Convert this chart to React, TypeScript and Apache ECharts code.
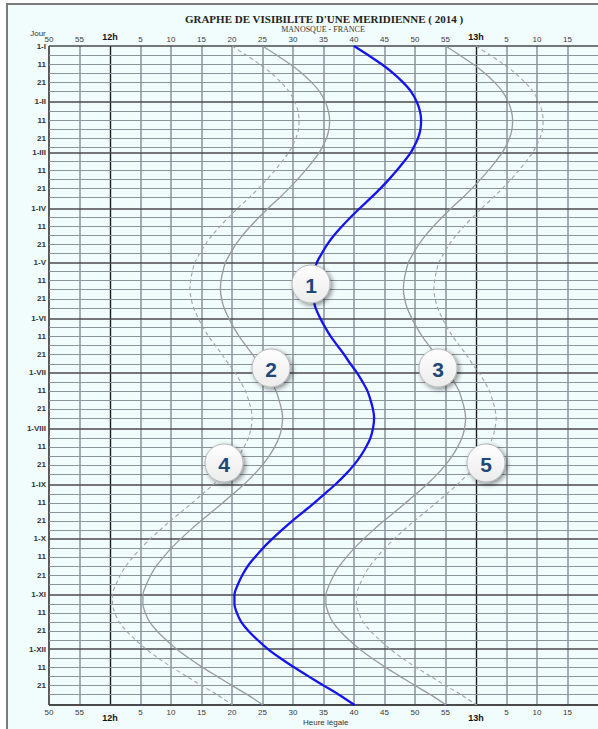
import React, { useEffect, useRef } from 'react';
import * as echarts from 'echarts';

// Day of year (0 = 1 January) for the points read on each curve (1, 6, 11, 16, 21, 26 of each month)
const days = [
  0, 5, 10, 15, 20, 25,
  31, 36, 41, 46, 51, 56,
  59, 64, 69, 74, 79, 84,
  90, 95, 100, 105, 110, 115,
  120, 125, 130, 135, 140, 145,
  151, 156, 161, 166, 171, 176,
  181, 186, 191, 196, 201, 206,
  212, 217, 222, 227, 232, 237,
  243, 248, 253, 258, 263, 268,
  273, 278, 283, 288, 293, 298,
  304, 309, 314, 319, 324, 329,
  334, 339, 344, 349, 354, 359,
  365,
];

// Minutes after 12h (legal time)
const curve1 = [
  40.0, 42.3, 44.5, 46.4, 48.0, 49.3,
  50.3, 50.8, 51.0, 50.9, 50.5, 49.8,
  49.3, 48.2, 47.0, 45.7, 44.3, 42.8,
  40.9, 39.4, 38.0, 36.7, 35.6, 34.7,
  33.9, 33.5, 33.2, 33.1, 33.3, 33.7,
  34.5, 35.3, 36.2, 37.3, 38.4, 39.4,
  40.5, 41.4, 42.2, 42.7, 43.1, 43.3,
  43.1, 42.7, 42.0, 41.1, 40.0, 38.7,
  36.9, 35.2, 33.5, 31.7, 29.9, 28.2,
  26.6, 25.1, 23.8, 22.6, 21.7, 21.0,
  20.4, 20.4, 20.8, 21.5, 22.7, 24.2,
  25.9, 27.9, 30.1, 32.5, 34.9, 37.4,
  40.1,
];
const curve2 = [
  25.0, 27.3, 29.5, 31.4, 33.0, 34.3,
  35.3, 35.8, 36.0, 35.9, 35.5, 34.8,
  34.3, 33.2, 32.0, 30.7, 29.3, 27.8,
  25.9, 24.4, 23.0, 21.7, 20.6, 19.7,
  18.9, 18.5, 18.2, 18.1, 18.3, 18.7,
  19.5, 20.3, 21.2, 22.3, 23.4, 24.4,
  25.5, 26.4, 27.2, 27.7, 28.1, 28.3,
  28.1, 27.7, 27.0, 26.1, 25.0, 23.7,
  21.9, 20.2, 18.5, 16.7, 14.9, 13.2,
  11.6, 10.1, 8.8, 7.6, 6.7, 6.0,
  5.4, 5.4, 5.8, 6.5, 7.7, 9.2,
  10.9, 12.9, 15.1, 17.5, 19.9, 22.4,
  25.1,
];
const curve3 = [
  55.0, 57.3, 59.5, 61.4, 63.0, 64.3,
  65.3, 65.8, 66.0, 65.9, 65.5, 64.8,
  64.3, 63.2, 62.0, 60.7, 59.3, 57.8,
  55.9, 54.4, 53.0, 51.7, 50.6, 49.7,
  48.9, 48.5, 48.2, 48.1, 48.3, 48.7,
  49.5, 50.3, 51.2, 52.3, 53.4, 54.4,
  55.5, 56.4, 57.2, 57.7, 58.1, 58.3,
  58.1, 57.7, 57.0, 56.1, 55.0, 53.7,
  51.9, 50.2, 48.5, 46.7, 44.9, 43.2,
  41.6, 40.1, 38.8, 37.6, 36.7, 36.0,
  35.4, 35.4, 35.8, 36.5, 37.7, 39.2,
  40.9, 42.9, 45.1, 47.5, 49.9, 52.4,
  55.1,
];
const curve4 = [
  20.0, 22.3, 24.5, 26.4, 28.0, 29.3,
  30.3, 30.8, 31.0, 30.9, 30.5, 29.8,
  29.3, 28.2, 27.0, 25.7, 24.3, 22.8,
  20.9, 19.4, 18.0, 16.7, 15.6, 14.7,
  13.9, 13.5, 13.2, 13.1, 13.3, 13.7,
  14.5, 15.3, 16.2, 17.3, 18.4, 19.4,
  20.5, 21.4, 22.2, 22.7, 23.1, 23.3,
  23.1, 22.7, 22.0, 21.1, 20.0, 18.7,
  16.9, 15.2, 13.5, 11.7, 9.9, 8.2,
  6.6, 5.1, 3.8, 2.6, 1.7, 1.0,
  0.4, 0.4, 0.8, 1.5, 2.7, 4.2,
  5.9, 7.9, 10.1, 12.5, 14.9, 17.4,
  20.1,
];
const curve5 = [
  60.0, 62.3, 64.5, 66.4, 68.0, 69.3,
  70.3, 70.8, 71.0, 70.9, 70.5, 69.8,
  69.3, 68.2, 67.0, 65.7, 64.3, 62.8,
  60.9, 59.4, 58.0, 56.7, 55.6, 54.7,
  53.9, 53.5, 53.2, 53.1, 53.3, 53.7,
  54.5, 55.3, 56.2, 57.3, 58.4, 59.4,
  60.5, 61.4, 62.2, 62.7, 63.1, 63.3,
  63.1, 62.7, 62.0, 61.1, 60.0, 58.7,
  56.9, 55.2, 53.5, 51.7, 49.9, 48.2,
  46.6, 45.1, 43.8, 42.6, 41.7, 41.0,
  40.4, 40.4, 40.8, 41.5, 42.7, 44.2,
  45.9, 47.9, 50.1, 52.5, 54.9, 57.4,
  60.1,
];

// X ticks (minutes after 12h) and their labels
const xTickValues = [-10, -5, 0, 5, 10, 15, 20, 25, 30, 35, 40, 45, 50, 55, 60, 65, 70, 75];
const xTickLabels = ['50', '55', '12h', '5', '10', '15', '20', '25', '30', '35', '40', '45', '50', '55', '13h', '5', '10', '15'];

// Months
const monthNames = ['I', 'II', 'III', 'IV', 'V', 'VI', 'VII', 'VIII', 'IX', 'X', 'XI', 'XII'];
const monthStarts = [0, 31, 59, 90, 120, 151, 181, 212, 243, 273, 304, 334];
const yearEnd = 365;
const minorOffsets = [5, 10, 15, 20, 25];
const labelledOffsets: Record<number, string> = { 10: '11', 20: '21' };

const FONT = 'Liberation Sans, Arial, sans-serif';
const SERIF = 'Liberation Serif, Times New Roman, serif';

function pairs(vals: number[]) {
  return vals.map((v, i) => [v, days[i]]);
}

export default function App() {
  const ref = useRef<HTMLDivElement>(null);

  useEffect(() => {
    if (!ref.current) return;
    const chart = echarts.init(ref.current, undefined, { renderer: 'svg' });

    const gridLines: any[] = [];
    xTickValues.forEach((v) => {
      const strong = v === 0 || v === 60;
      gridLines.push({
        xAxis: v,
        lineStyle: {
          color: strong ? '#1e1e1e' : v === -10 ? '#4a4a4a' : '#8f99a4',
          width: strong ? 1.4 : v === -10 ? 1.8 : 1.6,
          type: 'solid',
        },
      });
    });
    monthStarts.forEach((d, m) => {
      const next = m < 11 ? monthStarts[m + 1] : yearEnd;
      minorOffsets.forEach((o) => {
        if (d + o < next) {
          const lbl = labelledOffsets[o];
          gridLines.push({
            yAxis: d + o,
            lineStyle: { color: '#8d939b', width: 1.1, type: 'solid' },
            label: lbl ? { show: true, formatter: lbl } : { show: false },
          });
        }
      });
      gridLines.push({
        yAxis: d,
        lineStyle: { color: '#4a4a4a', width: 1.6, type: 'solid' },
        label: { show: true, formatter: '1-' + monthNames[m] },
      });
    });
    gridLines.push({
      yAxis: yearEnd,
      lineStyle: { color: '#4a4a4a', width: 1.8, type: 'solid' },
      label: { show: false },
    });

    const xLabelFormatter = (v: number) => {
      const i = xTickValues.indexOf(v);
      if (i < 0) return '';
      const t = xTickLabels[i];
      return t.endsWith('h') ? `{b|${t}}` : t;
    };

    const circle = (n: string, x: number, y: number) => ({
      type: 'group',
      x,
      y,
      z: 50,
      children: [
        {
          type: 'circle',
          shape: { cx: 0, cy: 0, r: 19 },
          style: {
            fill: new echarts.graphic.LinearGradient(0, 0, 0, 1, [
              { offset: 0, color: '#ffffff' },
              { offset: 1, color: '#ececec' },
            ]),
            stroke: '#b5b5b5',
            lineWidth: 1,
            shadowBlur: 5,
            shadowColor: 'rgba(0,0,0,0.45)',
            shadowOffsetX: 2,
            shadowOffsetY: 2,
          },
          z: 50,
        },
        {
          type: 'text',
          x: 0,
          y: 1,
          z: 51,
          style: {
            text: n,
            fill: '#1f4778',
            font: 'bold 21px ' + FONT,
            textAlign: 'center',
            textVerticalAlign: 'middle',
          },
        },
      ],
    });

    const axisLabelCommon = {
      fontSize: 8,
      color: '#3a3a3a',
      fontFamily: FONT,
      formatter: xLabelFormatter,
      showMinLabel: true,
      showMaxLabel: false,
    };

    const curveSeries = (name: string, vals: number[], style: any, z: number) => ({
      type: 'line',
      name,
      data: pairs(vals),
      smooth: 0.3,
      showSymbol: false,
      silent: true,
      z,
      lineStyle: style,
    });

    chart.setOption({
      animation: false,
      backgroundColor: '#ffffff',
      grid: { left: 49, top: 46, width: 552, height: 659, containLabel: false },
      xAxis: [
        {
          type: 'value',
          position: 'top',
          min: -10,
          max: 80,
          interval: 5,
          axisLine: { show: false },
          axisTick: { show: false },
          splitLine: { show: false },
          axisLabel: {
            ...axisLabelCommon,
            margin: 3,
            rich: { b: { fontSize: 9, fontWeight: 'bold', color: '#111', fontFamily: FONT, padding: [0, 0, 2, 0] } },
          },
        },
        {
          type: 'value',
          position: 'bottom',
          min: -10,
          max: 80,
          interval: 5,
          axisLine: { show: false },
          axisTick: { show: false },
          splitLine: { show: false },
          axisLabel: {
            ...axisLabelCommon,
            margin: 3,
            rich: { b: { fontSize: 9, fontWeight: 'bold', color: '#111', fontFamily: FONT, padding: [5, 0, 0, 0] } },
          },
        },
      ],
      yAxis: {
        type: 'value',
        inverse: true,
        min: 0,
        max: yearEnd,
        axisLine: { show: false },
        axisTick: { show: false },
        axisLabel: { show: false },
        splitLine: { show: false },
      },
      graphic: [
        {
          type: 'rect',
          z: 0,
          shape: { x: 7, y: 4, width: 600, height: 740 },
          style: { fill: '#f1fcfd', stroke: '#7a7a7a', lineWidth: 2 },
        },
        {
          type: 'text',
          z: 30,
          x: 324,
          y: 19,
          style: {
            text: "GRAPHE DE VISIBILITE D'UNE MERIDIENNE ( 2014 )",
            font: 'bold 11px ' + SERIF,
            fill: '#222',
            textAlign: 'center',
            textVerticalAlign: 'middle',
          },
        },
        {
          type: 'text',
          z: 30,
          x: 323,
          y: 29,
          style: {
            text: 'MANOSQUE - FRANCE',
            font: '8px ' + SERIF,
            fill: '#333',
            textAlign: 'center',
            textVerticalAlign: 'middle',
          },
        },
        {
          type: 'text',
          z: 30,
          x: 38,
          y: 33,
          style: {
            text: 'Jour',
            font: '8px ' + FONT,
            fill: '#333',
            textAlign: 'center',
            textVerticalAlign: 'middle',
          },
        },
        {
          type: 'text',
          z: 30,
          x: 303,
          y: 722,
          style: {
            text: 'Heure légale',
            font: '8px ' + FONT,
            fill: '#333',
            textAlign: 'left',
            textVerticalAlign: 'middle',
          },
        },
        circle('1', 311, 284),
        circle('2', 271, 368),
        circle('3', 438, 368),
        circle('4', 224, 463),
        circle('5', 486, 463),
      ],
      series: [
        {
          type: 'line',
          name: 'grid',
          data: [],
          silent: true,
          z: 1,
          markLine: {
            silent: true,
            symbol: ['none', 'none'],
            animation: false,
            label: {
              show: false,
              position: 'start',
              distance: 3,
              fontSize: 8,
              fontWeight: 'bold',
              color: '#333',
              fontFamily: FONT,
            },
            emphasis: { disabled: true },
            data: gridLines,
          },
        },
        curveSeries('4', curve4, { color: '#a3a3a3', width: 1.1, type: [4, 3] }, 10),
        curveSeries('5', curve5, { color: '#a3a3a3', width: 1.1, type: [4, 3] }, 10),
        curveSeries('2', curve2, { color: '#9a9a9a', width: 1.3 }, 10),
        curveSeries('3', curve3, { color: '#9a9a9a', width: 1.3 }, 10),
        curveSeries('1', curve1, { color: '#1414ee', width: 2.3 }, 11),
      ],
    });

    return () => chart.dispose();
  }, []);

  return (
    <div style={{ position: 'fixed', left: 0, top: 0, width: 598, height: 729, overflow: 'hidden', background: '#fff' }}>
      <div ref={ref} style={{ width: 598, height: 729 }} />
    </div>
  );
}
